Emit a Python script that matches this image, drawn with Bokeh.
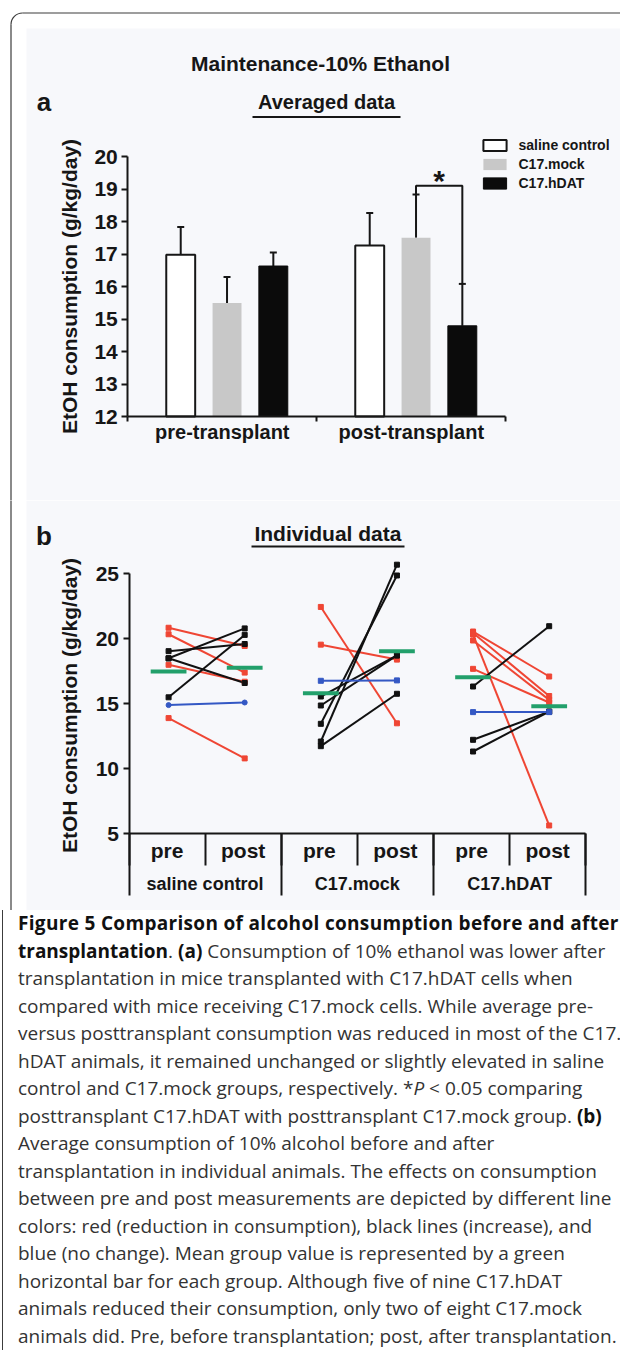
import math
from bokeh.plotting import figure
from bokeh.models import Range1d, LinearAxis, FixedTicker, Legend, LegendItem, Div
from bokeh.layouts import column
from bokeh.core.properties import value
from bokeh.embed import file_html
from bokeh.resources import INLINE

# ---------------- Panel a: averaged data ----------------
phases = ["pre-transplant", "post-transplant"]
groups = ["saline control", "C17.mock", "C17.hDAT"]
saline_mean = [16.98, 17.26]
saline_sem = [0.85, 1.00]
mock_mean = [15.49, 17.50]
mock_sem = [0.80, 1.33]
hdat_mean = [16.63, 14.79]
hdat_sem = [0.42, 1.29]
ticks_a = [12, 13, 14, 15, 16, 17, 18, 19, 20]
sig_y = 19.1

# ---------------- Panel b: individual data ----------------
timepoints = ["pre", "post"]
saline_pre = [20.85, 20.35, 18.00, 13.90, 19.05, 18.50, 18.50, 15.50, 14.90]
saline_post = [19.45, 17.40, 16.70, 10.80, 19.60, 20.80, 16.60, 20.30, 15.10]
saline_change = ["down", "down", "down", "down", "up", "up", "up", "up", "none"]
mock_pre = [22.45, 19.55, 12.10, 13.46, 11.74, 14.87, 15.56, 16.77]
mock_post = [13.50, 18.40, 25.70, 24.87, 15.77, 18.72, 18.72, 16.80]
mock_change = ["down", "down", "up", "up", "up", "up", "up", "none"]
hdat_pre = [20.56, 20.45, 20.33, 19.87, 17.69, 16.33, 12.23, 11.33, 14.36]
hdat_post = [17.10, 15.60, 5.64, 15.30, 15.10, 20.97, 14.40, 14.40, 14.36]
hdat_change = ["down", "down", "down", "down", "down", "up", "up", "up", "none"]
group_mean_pre = [17.48, 15.82, 17.05]
group_mean_post = [17.77, 19.05, 14.82]
ticks_b = [5, 10, 15, 20, 25]

caption_lines = [
    "<b style=\"letter-spacing:0.32px\">Figure 5 Comparison of alcohol consumption before and after</b>",
    "<b>transplantation</b>. <b>(a)</b> Consumption of 10% ethanol was lower after",
    "transplantation in mice transplanted with C17.hDAT cells when",
    "compared with mice receiving C17.mock cells. While average pre-",
    "versus posttransplant consumption was reduced in most of the C17.",
    "hDAT animals, it remained unchanged or slightly elevated in saline",
    "control and C17.mock groups, respectively. *<i>P</i> &lt; 0.05 comparing",
    "posttransplant C17.hDAT with posttransplant C17.mock group. <b>(b)</b>",
    "Average consumption of 10% alcohol before and after",
    "transplantation in individual animals. The effects on consumption",
    "between pre and post measurements are depicted by different line",
    "colors: red (reduction in consumption), black lines (increase), and",
    "blue (no change). Mean group value is represented by a green",
    "horizontal bar for each group. Although five of nine C17.hDAT",
    "animals reduced their consumption, only two of eight C17.mock",
    "animals did. Pre, before transplantation; post, after transplantation.",
]

# ---------------- styles ----------------
FONT_NAME = "Liberation Sans"
FONT = value(FONT_NAME)
INK = "#161616"
BG = "#f7f8fb"
FRAME_LINE = "#3c3c3c"
RED = "#ef4634"
BLUE = "#3458c4"
GREEN = "#22a06b"
MOCK_GRAY = "#c8c8c8"
CHANGE_COLOR = {"down": RED, "up": "#111111", "none": BLUE}

W = 620
HA, HB, HC = 500, 410, 440
LEFT = 0
TOP_A = 0
TOP_B = TOP_A + HA

# page-pixel placement of the two plot frames
A_X0, A_KX, A_Y0, A_KY = 127.3, 189.0, 416.0, 32.5
B_X0, B_KX, B_Y0, B_KY = 128.5, 76.12, 833.3, 13.0


def ax(px):
    return (px - A_X0) / A_KX


def ay(py):
    return 12 + (A_Y0 - py) / A_KY


def bx(px):
    return (px - B_X0) / B_KX


def by(py):
    return 5 + (B_Y0 - py) / B_KY


def make_fig(h, xr, yr):
    return figure(width=W, height=h, x_range=Range1d(*xr), y_range=Range1d(*yr),
                  x_axis_type=None, y_axis_type=None, toolbar_location=None,
                  output_backend="svg", min_border=0, outline_line_color=None,
                  background_fill_color="white", border_fill_color="white", title=None)


def label(p, x, y, text, size, align="center", angle=0.0):
    p.text(x=[x], y=[y], text=[text], text_font=FONT, text_font_style="bold",
           text_font_size=f"{size}px", text_align=align, text_baseline="middle",
           angle=angle, text_color=INK)


def decorate(p, fx, fy, kx, top, bottom, corner):
    p.quad(left=[fx(26)], right=[fx(LEFT + W + 4)], bottom=[fy(bottom + 2)],
           top=[fy(max(top, 28))], fill_color=BG, line_color=None)
    y0 = 24 if corner else top - 2
    p.segment(x0=[fx(10.5)], y0=[fy(y0)], x1=[fx(10.5)], y1=[fy(bottom + 2)],
              line_color=FRAME_LINE, line_width=1.2)
    if corner:
        p.segment(x0=[fx(22)], y0=[fy(12.5)], x1=[fx(LEFT + W + 4)], y1=[fy(12.5)],
                  line_color=FRAME_LINE, line_width=1.2)
        p.arc(x=[fx(22)], y=[fy(24)], radius=11.5 / kx, start_angle=math.pi / 2,
              end_angle=math.pi, line_color=FRAME_LINE, line_width=1.2)


def style_axis(axis, size):
    axis.axis_line_color = INK
    axis.axis_line_width = 2
    axis.major_tick_line_color = INK
    axis.major_tick_line_width = 2
    axis.major_tick_in = 0
    axis.major_tick_out = 6
    axis.minor_tick_line_color = None
    axis.major_label_text_font = FONT_NAME
    axis.major_label_text_font_style = "bold"
    axis.major_label_text_font_size = f"{size}px"
    axis.major_label_text_color = INK


# ================= Panel a =================
pa = make_fig(HA, (ax(LEFT), ax(LEFT + W)), (ay(TOP_A + HA), ay(TOP_A)))
decorate(pa, ax, ay, A_KX, TOP_A, TOP_A + HA, True)

label(pa, ax(320), ay(63), "Maintenance-10% Ethanol", 21)
label(pa, ax(43.5), ay(101), "a", 26)
label(pa, ax(326), ay(101.5), "Averaged data", 20)
pa.segment(x0=[ax(252)], y0=[ay(116.5)], x1=[ax(400)], y1=[ay(116.5)], line_color=INK, line_width=2)
label(pa, ax(69), ay(286), "EtOH consumption (g/kg/day)", 21, angle=math.pi / 2)

centers = [i + 0.525 for i in range(len(phases))]
offsets = [-0.245, 0.0, 0.245]
bar_w = 0.153
cap = 3.5 / A_KX
series = [
    (saline_mean, saline_sem, dict(fill_color="white", line_color=INK, line_width=2)),
    (mock_mean, mock_sem, dict(fill_color=MOCK_GRAY, line_color=None)),
    (hdat_mean, hdat_sem, dict(fill_color="#0b0b0b", line_color="#0b0b0b", line_width=1)),
]
bar_x = []
err_top = []
renderers = []
for (m, s, sty), off in zip(series, offsets):
    xs = [c + off for c in centers]
    tops = [a + b for a, b in zip(m, s)]
    bar_x.append(xs)
    err_top.append(tops)
    pa.segment(x0=xs, y0=m, x1=xs, y1=tops, line_color=INK, line_width=2)
    pa.segment(x0=[x - cap for x in xs], y0=tops, x1=[x + cap for x in xs], y1=tops,
               line_color=INK, line_width=2)
    renderers.append(pa.vbar(x=xs, top=m, bottom=ticks_a[0], width=bar_w, **sty))

# significance bracket (post-transplant C17.mock vs C17.hDAT)
bx0, bx1 = bar_x[1][1], bar_x[2][1]
pa.line(x=[bx0, bx0, bx1, bx1], y=[err_top[1][1], sig_y, sig_y, err_top[2][1]],
        line_color=INK, line_width=2)
label(pa, (bx0 + bx1) / 2, sig_y + 5 / A_KY, "*", 30)

ya = LinearAxis(fixed_location=0, bounds=(ticks_a[0], ticks_a[-1]), ticker=FixedTicker(ticks=ticks_a))
style_axis(ya, 21)
ya.major_label_standoff = 4
pa.add_layout(ya, "left")

xa = LinearAxis(fixed_location=ticks_a[0], bounds=(0, len(phases)),
                ticker=FixedTicker(ticks=[i + 0.5 for i in range(len(phases))],
                                   minor_ticks=list(range(len(phases) + 1))),
                major_label_overrides={i + 0.5: ph for i, ph in enumerate(phases)})
style_axis(xa, 20)
xa.major_tick_line_color = None
xa.major_tick_out = 0
xa.minor_tick_line_color = INK
xa.minor_tick_line_width = 2
xa.minor_tick_in = 0
xa.minor_tick_out = 5
xa.major_label_standoff = -1
pa.add_layout(xa, "below")

legend = Legend(items=[LegendItem(label=g, renderers=[r]) for g, r in zip(groups, renderers)],
                location=(479.5, HA - 137 - 54), padding=0, margin=0, spacing=3,
                glyph_width=29, glyph_height=14, label_height=16, label_standoff=10,
                label_text_font=FONT_NAME, label_text_font_style="bold",
                label_text_font_size="14px", label_text_color=INK,
                border_line_color=None, background_fill_alpha=0)
pa.add_layout(legend)

# ================= Panel b =================
pb = make_fig(HB, (bx(LEFT), bx(LEFT + W)), (by(TOP_B + HB), by(TOP_B)))
decorate(pb, bx, by, B_KX, TOP_B, TOP_B + HB, False)

label(pb, bx(43.5), by(535), "b", 26)
label(pb, bx(327.4), by(532.5), "Individual data", 21)
pb.segment(x0=[bx(251)], y0=[by(546)], x1=[bx(404)], y1=[by(546)], line_color=INK, line_width=2)
label(pb, bx(69), by(705), "EtOH consumption (g/kg/day)", 21, angle=math.pi / 2)

group_data = [
    (saline_pre, saline_post, saline_change),
    (mock_pre, mock_post, mock_change),
    (hdat_pre, hdat_post, hdat_change),
]
half = 0.235
for g, (pre, post, chg) in enumerate(group_data):
    x_pre = 2 * g + 0.52
    x_post = 2 * g + 1.52
    n = len(pre)
    cols = [CHANGE_COLOR[c] for c in chg]
    pb.segment(x0=[x_pre] * n, y0=pre, x1=[x_post] * n, y1=post, line_color=cols, line_width=2)
    mk = ["circle" if (c == "none" and g == 0) else "square" for c in chg]
    pb.scatter(x=[x_pre] * n + [x_post] * n, y=pre + post, marker=mk + mk,
               size=5, fill_color=cols + cols, line_color=cols + cols)
    pb.segment(x0=[x_pre - half, x_post - half], y0=[group_mean_pre[g], group_mean_post[g]],
               x1=[x_pre + half, x_post + half], y1=[group_mean_pre[g], group_mean_post[g]],
               line_color=GREEN, line_width=4)

yb = LinearAxis(fixed_location=0, bounds=(ticks_b[0], ticks_b[-1]), ticker=FixedTicker(ticks=ticks_b))
style_axis(yb, 21)
yb.major_label_standoff = 4
pb.add_layout(yb, "left")

n_sub = 2 * len(groups)
xb1 = LinearAxis(fixed_location=ticks_b[0], bounds=(0, n_sub),
                 ticker=FixedTicker(ticks=[i + 0.5 for i in range(n_sub)],
                                    minor_ticks=list(range(n_sub + 1))),
                 major_label_overrides={i + 0.5: timepoints[i % 2] for i in range(n_sub)})
style_axis(xb1, 21)
xb1.major_tick_line_color = None
xb1.major_tick_out = 0
xb1.minor_tick_line_color = INK
xb1.minor_tick_line_width = 2
xb1.minor_tick_in = 0
xb1.minor_tick_out = 32
xb1.major_label_standoff = -27
pb.add_layout(xb1, "below")

xb2 = LinearAxis(fixed_location=ticks_b[0], bounds=(0, n_sub),
                 ticker=FixedTicker(ticks=[2 * i + 1 for i in range(len(groups))],
                                    minor_ticks=[2 * i for i in range(len(groups) + 1)]),
                 major_label_overrides={2 * i + 1: g for i, g in enumerate(groups)})
style_axis(xb2, 18)
xb2.axis_line_color = None
xb2.major_tick_line_color = None
xb2.major_tick_out = 0
xb2.minor_tick_line_color = INK
xb2.minor_tick_line_width = 2
xb2.minor_tick_in = 0
xb2.minor_tick_out = 62
xb2.major_label_standoff = -22
pb.add_layout(xb2, "below")

# ================= Caption =================
body = "<br>".join(caption_lines)
html = (
    "<div style=\"box-sizing:border-box;width:618px;height:%dpx;margin:0 0 0 2px;"
    "border-left:1.2px solid %s;padding:0 0 0 15px;font-family:'Open Sans';"
    "font-size:19px;line-height:27.5px;color:#333333;white-space:nowrap;\">%s</div>"
    % (HC, FRAME_LINE, body.replace("<b>", "<b style=\"color:#111111\">")
       .replace("<b style=\"letter-spacing", "<b style=\"color:#111111;letter-spacing"))
)
cap_div = Div(text=html, width=W, height=HC, margin=0)

root = column(pa, pb, cap_div, spacing=0)
open("out.html", "w").write(file_html(root, INLINE))
